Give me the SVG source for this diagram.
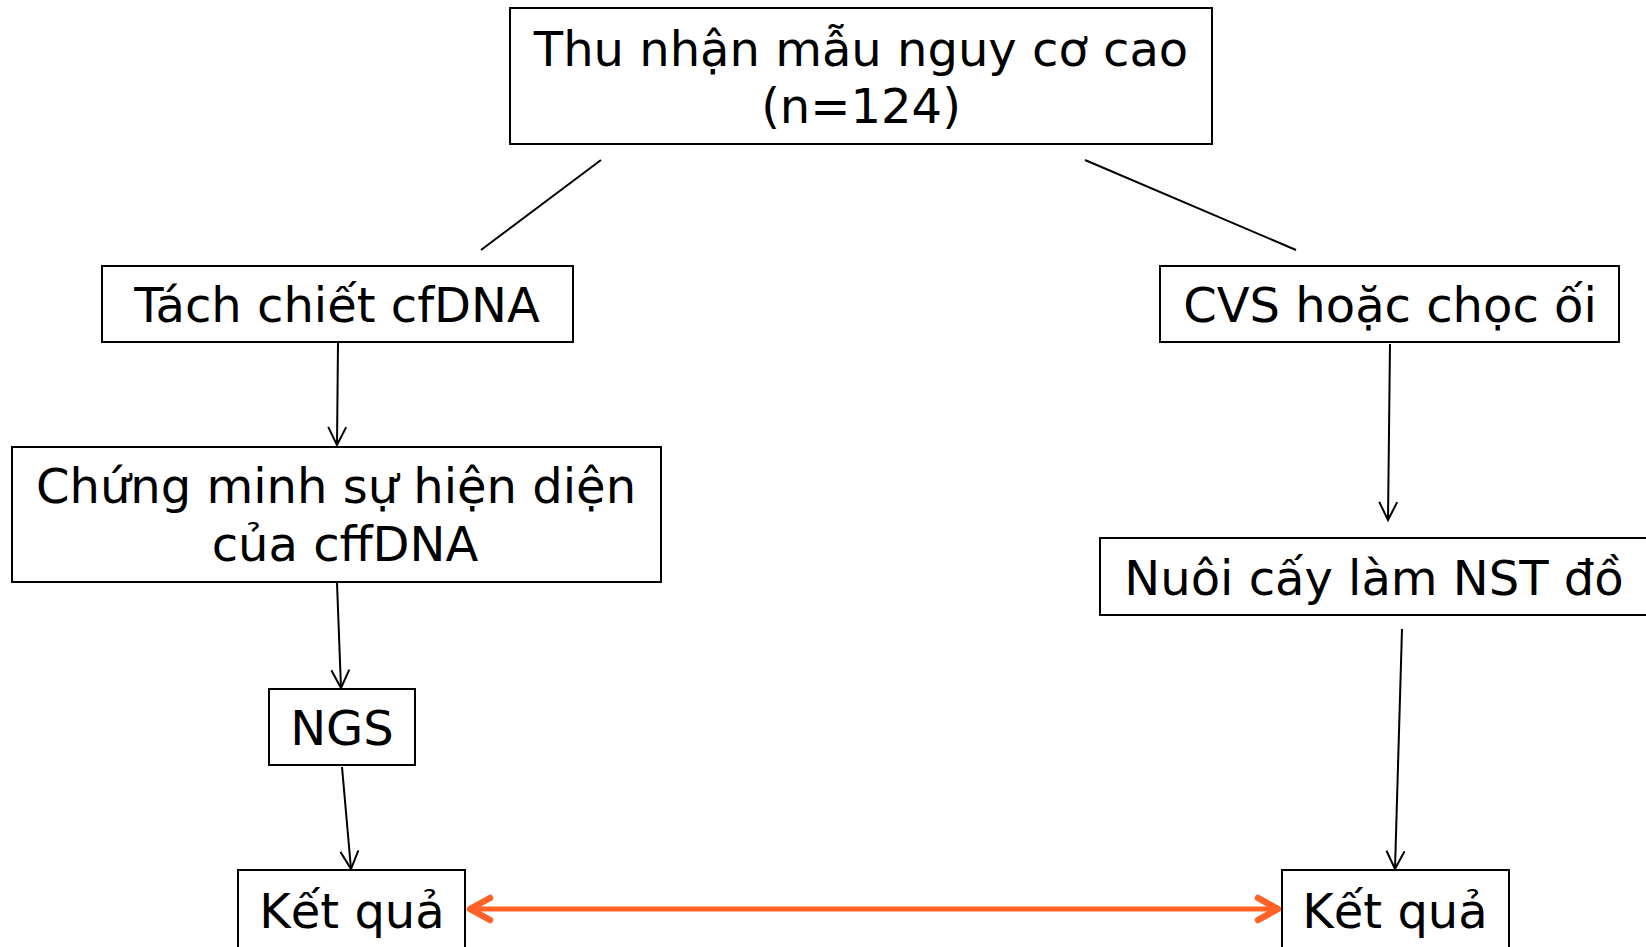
<svg xmlns="http://www.w3.org/2000/svg" width="1646" height="947" viewBox="0 0 1646 947">
<style>
.box{fill:#fff;stroke:#000;stroke-width:2}
.t{font-family:"DejaVu Sans","Verdana",sans-serif;font-size:48px;fill:#000;text-anchor:middle}
.ln{stroke:#000;stroke-width:2;fill:none}
.ar{stroke:#000;stroke-width:2;fill:none;marker-end:url(#ah)}
.or{stroke:#FF6127;stroke-width:5;fill:none;marker-start:url(#oh);marker-end:url(#oh)}
</style>
<defs>
<marker id="ah" markerUnits="userSpaceOnUse" viewBox="-20 -12 24 24" refX="0" refY="0" markerWidth="24" markerHeight="24" orient="auto">
<path d="M-18,-9 L0,0 L-18,9" fill="none" stroke="#000" stroke-width="2"/>
</marker>
<marker id="oh" markerUnits="userSpaceOnUse" viewBox="-28 -16 32 32" refX="0" refY="0" markerWidth="32" markerHeight="32" orient="auto-start-reverse">
<path d="M-21,-11 L-1,0 L-21,11" fill="none" stroke="#FF6127" stroke-width="6.5" stroke-linecap="round" stroke-linejoin="round"/>
</marker>
</defs>
<rect width="1646" height="947" fill="#fff"/>
<g id="connectors">
<line class="ln" x1="601" y1="160" x2="481" y2="250"/>
<line class="ln" x1="1085" y1="160" x2="1296" y2="250"/>
<line class="ar" x1="338" y1="343" x2="337" y2="445"/>
<line class="ar" x1="337" y1="583" x2="341" y2="688"/>
<line class="ar" x1="342" y1="767" x2="351" y2="869"/>
<line class="ar" x1="1390" y1="344" x2="1388" y2="520"/>
<line class="ar" x1="1402" y1="629" x2="1395" y2="869"/>
<line class="or" x1="469" y1="909" x2="1279" y2="909"/>
</g>
<g id="n_top">
<rect class="box" x="510" y="8" width="702" height="136"/>
<text class="t" x="861" y="66">Thu nhận mẫu nguy cơ cao</text>
<text class="t" x="861" y="123">(n=124)</text>
</g>
<g id="n_tach">
<rect class="box" x="102" y="266" width="471" height="76"/>
<text class="t" x="337" y="322">Tách chiết cfDNA</text>
</g>
<g id="n_chung">
<rect class="box" x="12" y="447" width="649" height="135"/>
<text class="t" x="336" y="503">Chứng minh sự hiện diện</text>
<text class="t" x="345" y="561">của cffDNA</text>
</g>
<g id="n_ngs">
<rect class="box" x="269" y="689" width="146" height="76"/>
<text class="t" x="342" y="745">NGS</text>
</g>
<g id="n_kq_left">
<rect class="box" x="238" y="870" width="227" height="85"/>
<text class="t" x="352" y="928">Kết quả</text>
</g>
<g id="n_cvs">
<rect class="box" x="1160" y="266" width="459" height="76"/>
<text class="t" x="1390" y="322">CVS hoặc chọc ối</text>
</g>
<g id="n_nuoi">
<rect class="box" x="1100" y="538" width="560" height="77"/>
<text class="t" x="1374" y="595">Nuôi cấy làm NST đồ</text>
</g>
<g id="n_kq_right">
<rect class="box" x="1282" y="870" width="227" height="85"/>
<text class="t" x="1395" y="928">Kết quả</text>
</g>
</svg>
